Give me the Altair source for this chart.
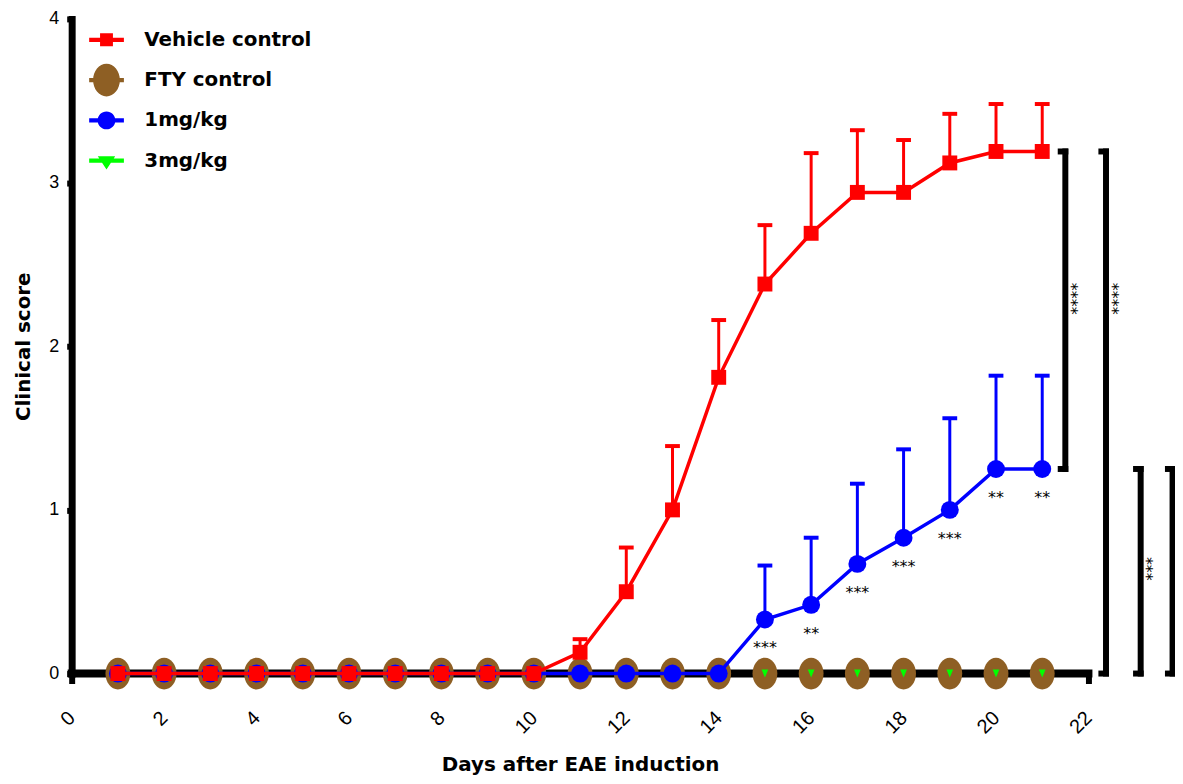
import altair as alt
import pandas as pd

# ---------------- data ----------------
days = [1, 2, 3, 4, 5, 6, 7, 8, 9, 10, 11, 12, 13, 14, 15, 16, 17, 18, 19, 20, 21]

series_names = ["Vehicle control", "FTY control", "1mg/kg", "3mg/kg"]
series_colors = ["#FF0000", "#8E5F24", "#0000FF", "#00FF00"]

vehicle_mean = [0, 0, 0, 0, 0, 0, 0, 0, 0, 0, 0.13, 0.50, 1.00, 1.81, 2.38, 2.69, 2.94, 2.94, 3.12, 3.19, 3.19]
vehicle_upper = [0, 0, 0, 0, 0, 0, 0, 0, 0, 0, 0.21, 0.77, 1.39, 2.16, 2.74, 3.18, 3.32, 3.26, 3.42, 3.48, 3.48]

fty_mean = [0, 0, 0, 0, 0, 0, 0, 0, 0, 0, 0, 0, 0, 0, 0, 0, 0, 0, 0, 0, 0]

mg1_mean = [0, 0, 0, 0, 0, 0, 0, 0, 0, 0, 0, 0, 0, 0, 0.33, 0.42, 0.67, 0.83, 1.00, 1.25, 1.25]
mg1_upper = [0, 0, 0, 0, 0, 0, 0, 0, 0, 0, 0, 0, 0, 0, 0.66, 0.83, 1.16, 1.37, 1.56, 1.82, 1.82]
mg1_stars = ["", "", "", "", "", "", "", "", "", "", "", "", "", "",
             "***", "**", "***", "***", "***", "**", "**"]

mg3_mean = [0, 0, 0, 0, 0, 0, 0, 0, 0, 0, 0, 0, 0, 0, 0, 0, 0, 0, 0, 0, 0]

bracket_x = [21.50, 22.38, 23.13, 23.82]
bracket_top = [3.19, 3.19, 1.25, 1.25]
bracket_bottom = [1.25, 0.0, 0.0, 0.0]
bracket_text = ["****", "****", "***", ""]
bracket_text_y = [2.29, 2.29, 0.64, 0.64]

x_ticks = [0, 2, 4, 6, 8, 10, 12, 14, 16, 18, 20, 22]
y_ticks = [0, 1, 2, 3, 4]

# ---------------- tables ----------------
vehicle_df = pd.DataFrame({"day": days, "value": vehicle_mean, "upper": vehicle_upper})
fty_df = pd.DataFrame({"day": days, "value": fty_mean})
mg1_df = pd.DataFrame({"day": days, "value": mg1_mean, "upper": mg1_upper, "stars": mg1_stars})
mg3_df = pd.DataFrame({"day": days, "value": mg3_mean})
bracket_df = pd.DataFrame({"bx": bracket_x, "top": bracket_top, "bottom": bracket_bottom,
                           "label": bracket_text, "ly": bracket_text_y})
legend_df = pd.DataFrame({"series": series_names, "day": [1, 1, 1, 1], "value": [-1, -1, -1, -1]})
baseline_df = pd.DataFrame({"x0": [x_ticks[0]], "x1": [x_ticks[-1]], "y0": [y_ticks[0]]})

# ---------------- shared scales / axes ----------------
xs = alt.Scale(domain=[0, 22], nice=False, zero=False)
ys = alt.Scale(domain=[0, 4], nice=False)

x_axis = alt.Axis(
    title="Days after EAE induction", values=x_ticks, labelAngle=315,
    labelFont="Liberation Sans", labelFontSize=20, labelColor="black",
    labelPadding=31, labelAlign="right", labelBaseline="middle",
    labelOverlap=False, labelFlush=False, labelBound=False,
    tickSize=10, tickWidth=6,
    tickColor=alt.condition("datum.value == 0 || datum.value == 22",
                            alt.value("black"), alt.value("transparent")),
    domain=False, grid=False,
    titleFont="DejaVu Sans", titleFontSize=20, titleFontWeight="bold", titleColor="black",
    titleY=97, titleBaseline="alphabetic",
)
y_axis = alt.Axis(
    title="Clinical score", values=y_ticks, format="d",
    labelFont="Liberation Sans", labelFontSize=18, labelColor="black", labelPadding=8,
    tickSize=5, tickWidth=6, tickColor="black",
    domainColor="black", domainWidth=7, domainCap="square", grid=False,
    titleFont="DejaVu Sans", titleFontSize=20, titleFontWeight="bold", titleColor="black",
    titleX=-48, titleBaseline="middle",
)


def X(field):
    return alt.X(field, type="quantitative", scale=xs, axis=x_axis)


def Y(field):
    return alt.Y(field, type="quantitative", scale=ys, axis=y_axis)


# marker shapes
fty_shape = "M0,-1A0.78,1,0,1,1,0,1A0.78,1,0,1,1,0,-1Z"
tri_shape = "M-0.42,-0.5L0.42,-0.5L0,0.5Z"

# legend symbols (line + marker)
legend_paths = [
    "M-1,-0.12L1,-0.12L1,0.12L-1,0.12Z M-0.37,-0.37L0.37,-0.37L0.37,0.37L-0.37,0.37Z",
    "M-1,-0.12L1,-0.12L1,0.12L-1,0.12Z M0,-0.94A0.77,0.94,0,1,1,0,0.94A0.77,0.94,0,1,1,0,-0.94Z",
    "M-1,-0.12L1,-0.12L1,0.12L-1,0.12Z M0,-0.51A0.51,0.51,0,1,1,0,0.51A0.51,0.51,0,1,1,0,-0.51Z",
    "M-1,-0.12L1,-0.12L1,0.12L-1,0.12Z M-0.5,-0.25L0.5,-0.25L0,0.5Z",
]

# ---------------- layers ----------------
layers = []

# thick x baseline (drawn as a mark so that series lines sit on top of it)
layers.append(alt.Chart(baseline_df).mark_rule(color="black", strokeWidth=8, strokeCap="square").encode(
    x=X("x0"), x2="x1:Q", y=Y("y0")))

# significance brackets
base_b = alt.Chart(bracket_df)
layers.append(base_b.mark_rule(color="black", strokeWidth=6, strokeCap="square").encode(
    x=X("bx"), y=Y("top"), y2="bottom:Q"))
layers.append(base_b.transform_calculate(ax="datum.bx - 0.1").mark_rule(
    color="black", strokeWidth=6, strokeCap="square").encode(x=X("ax"), x2="bx:Q", y=Y("top")))
layers.append(base_b.transform_calculate(ax="datum.bx - 0.1").mark_rule(
    color="black", strokeWidth=6, strokeCap="square").encode(x=X("ax"), x2="bx:Q", y=Y("bottom")))
layers.append(base_b.transform_filter("datum.label != ''").transform_calculate(
    lx="datum.bx + 0.12").mark_text(
    angle=90, font="DejaVu Sans", fontSize=16, color="black", align="center", baseline="middle"
).encode(x=X("lx"), y=Y("ly"), text="label:N"))

# FTY control (big brown ovals)
layers.append(alt.Chart(fty_df).mark_point(
    filled=True, opacity=1, shape=fty_shape, size=1024, color=series_colors[1]
).encode(x=X("day"), y=Y("value")))

# 3 mg/kg (green down-triangles)
layers.append(alt.Chart(mg3_df).mark_point(
    filled=True, opacity=1, shape=tri_shape, size=256, color=series_colors[3]
).encode(x=X("day"), y=Y("value")))


def series_layers(df, color, shape, size):
    base = alt.Chart(df)
    err = base.transform_filter("datum.upper > datum.value")
    out = [
        err.mark_rule(color=color, strokeWidth=3).encode(x=X("day"), y=Y("value"), y2="upper:Q"),
        err.transform_calculate(cl="datum.day - 0.16", cr="datum.day + 0.16").mark_rule(
            color=color, strokeWidth=4).encode(x=X("cl"), x2="cr:Q", y=Y("upper")),
        base.mark_line(color=color, strokeWidth=3.5).encode(x=X("day"), y=Y("value")),
        base.mark_point(filled=True, opacity=1, shape=shape, size=size, color=color).encode(
            x=X("day"), y=Y("value")),
    ]
    return out


layers += series_layers(mg1_df, series_colors[2], "circle", 324)
layers += series_layers(vehicle_df, series_colors[0], "square", 225)

# stars under 1 mg/kg points
layers.append(alt.Chart(mg1_df).transform_filter("datum.stars != ''").mark_text(
    font="DejaVu Sans", fontSize=16, color="black", align="center", baseline="middle", dy=29
).encode(x=X("day"), y=Y("value"), text="stars:N"))

# legend (symbols only; the mark itself is clipped away)
leg = alt.Legend(
    title=None, orient="none", legendX=17.5, legendY=3.5,
    labelFont="DejaVu Sans", labelFontSize=20, labelFontWeight="bold", labelColor="black",
    labelOffset=20.5, labelLimit=400, symbolSize=1225, symbolStrokeWidth=0,
    rowPadding=5.5, padding=0, clipHeight=35,
)
layers.append(alt.Chart(legend_df).mark_point(filled=True, opacity=1, size=1225, clip=True).encode(
    x=X("day"), y=Y("value"),
    color=alt.Color("series:N", scale=alt.Scale(domain=series_names, range=series_colors), legend=leg),
    shape=alt.Shape("series:N", scale=alt.Scale(domain=series_names, range=legend_paths), legend=leg),
))

chart = alt.layer(*layers).properties(
    width=1022, height=658,
    padding={"left": 64, "top": 9, "right": 87, "bottom": 100},
    autosize=alt.AutoSizeParams(type="none"),
    background="white",
).configure_view(strokeWidth=0)

chart.save("out.html", embed_options={"renderer": "svg", "actions": False})
